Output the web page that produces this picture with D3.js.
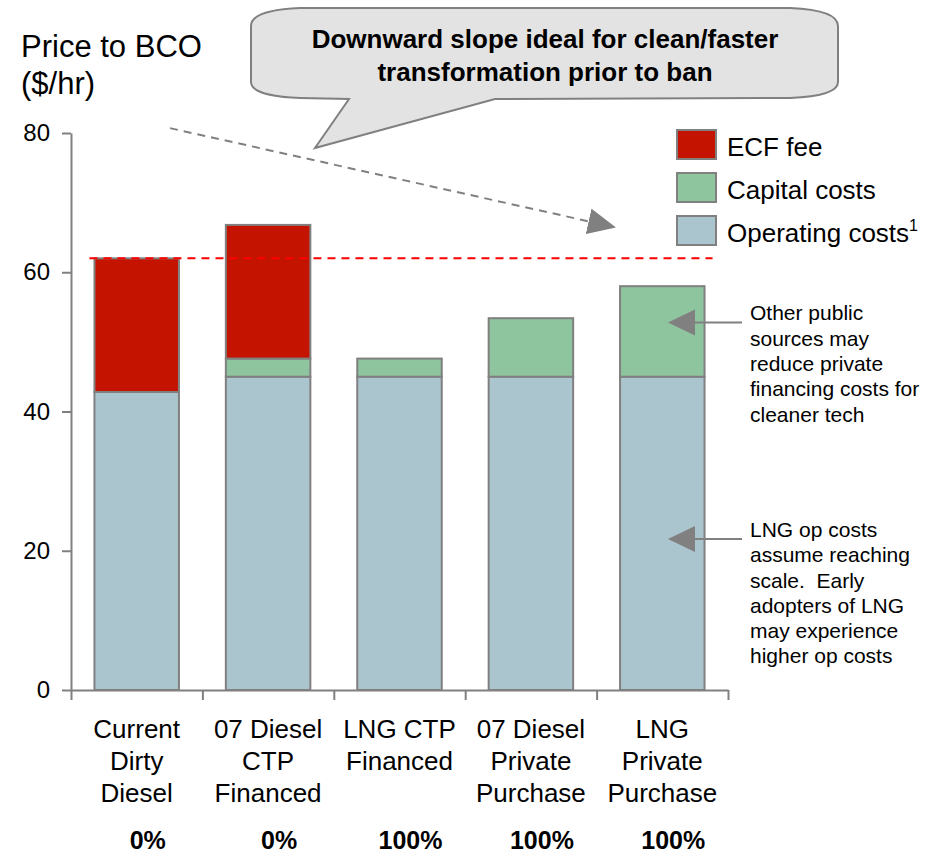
<!DOCTYPE html>
<html>
<head>
<meta charset="utf-8">
<script src="https://cdn.jsdelivr.net/npm/d3@7"></script>
<style>
  body { margin: 0; background: #fff; }
  svg { display: block; font-family: "Liberation Sans", Arial, sans-serif; }
  .note text { white-space: pre; }
</style>
</head>
<body>
<svg id="chart" width="942" height="853"></svg>
<script>
// categories and stacked values ($/hr)
const categories = ['Current Dirty Diesel', '07 Diesel CTP Financed', 'LNG CTP Financed', '07 Diesel Private Purchase', 'LNG Private Purchase'];
const categoryLines = [['Current', 'Dirty', 'Diesel'], ['07 Diesel', 'CTP', 'Financed'], ['LNG CTP', 'Financed'], ['07 Diesel', 'Private', 'Purchase'], ['LNG', 'Private', 'Purchase']];
const operatingCosts = [42.8, 45, 45, 45, 45];
const capitalCosts = [0, 2.6, 2.6, 8.4, 13];
const ecfFee = [19.2, 19.2, 0, 0, 0];
const shares = ['0%', '0%', '100%', '100%', '100%'];
const yTicks = [0, 20, 40, 60, 80];
const baseline = 62;

const keys = ['op', 'cap', 'ecf'];
const colors = {op: '#abc5ce', cap: '#8ec59e', ecf: '#c41400'};
const legendItems = [
    {key: 'ecf', label: 'ECF fee'},
    {key: 'cap', label: 'Capital costs'},
    {key: 'op', label: 'Operating costs', sup: '1'},
];

const notes = [
    {value: 52.8, lines: ['Other public', 'sources may', 'reduce private', 'financing costs for', 'cleaner tech']},
    {value: 21.7, lines: ['LNG op costs', 'assume reaching', 'scale.  Early', 'adopters of LNG', 'may experience', 'higher op costs']},
];

const table = categories.map((c, i) => ({cat: c, op: operatingCosts[i], cap: capitalCosts[i], ecf: ecfFee[i]}));

const svg = d3.select('#chart');
const grey = '#808080';

const x = d3.scaleBand()
    .domain(categories)
    .range([71, 728])
    .paddingInner(0.357)
    .paddingOuter(0.1785);

const y = d3.scaleLinear()
    .domain([0, 80])
    .range([690, 133]);

// bars
const series = d3.stack().keys(keys)(table);

svg.append('g').selectAll('g')
    .data(series)
    .join('g')
    .attr('fill', d => colors[d.key])
    .selectAll('rect')
    .data(d => d.filter(s => s[1] - s[0] > 0))
    .join('rect')
    .attr('x', d => x(d.data.cat))
    .attr('width', x.bandwidth())
    .attr('y', d => y(d[1]))
    .attr('height', d => y(d[0]) - y(d[1]))
    .attr('stroke', grey)
    .attr('stroke-width', 2);

// axes
const gy = svg.append('g')
    .attr('transform', 'translate(71,0)')
    .call(d3.axisLeft(y).tickValues(yTicks).tickSize(9).tickSizeOuter(0).tickPadding(12));
gy.select('.domain').attr('stroke', grey).attr('stroke-width', 2);
gy.selectAll('.tick line').attr('stroke', grey).attr('stroke-width', 2);
gy.selectAll('.tick text').attr('font-size', 24).attr('fill', '#000').attr('font-family', null);

const xEdge = d3.scaleLinear().domain([0, categories.length]).range(x.range());
const gx = svg.append('g')
    .attr('transform', `translate(0,${y(0)})`)
    .call(d3.axisBottom(xEdge).tickValues(d3.range(categories.length + 1)).tickFormat('').tickSize(10).tickSizeOuter(0));
gx.select('.domain').attr('stroke', grey).attr('stroke-width', 2);
gx.selectAll('.tick line').attr('stroke', grey).attr('stroke-width', 2);

// category labels
svg.append('g').selectAll('text')
    .data(categories)
    .join('text')
    .attr('x', d => x(d) + x.bandwidth() / 2)
    .attr('y', 738)
    .attr('text-anchor', 'middle')
    .attr('font-size', 26)
    .selectAll('tspan')
    .data((d, i) => categoryLines[i])
    .join('tspan')
    .attr('x', function() { return this.parentNode.getAttribute('x'); })
    .attr('dy', (d, i) => i === 0 ? 0 : 32)
    .text(d => d);

svg.append('g').selectAll('text')
    .data(shares)
    .join('text')
    .attr('x', (d, i) => x(categories[i]) + x.bandwidth() / 2 + 11)
    .attr('y', 849)
    .attr('text-anchor', 'middle')
    .attr('font-size', 25)
    .attr('font-weight', 'bold')
    .text(d => d);

// red reference line
svg.append('line')
    .attr('x1', x(categories[0]) - 5)
    .attr('x2', x(categories[categories.length - 1]) + x.bandwidth() + 8)
    .attr('y1', y(baseline))
    .attr('y2', y(baseline))
    .attr('stroke', '#ff0000')
    .attr('stroke-width', 2)
    .attr('stroke-dasharray', '8,6');

// y title
svg.append('text')
    .attr('x', 21)
    .attr('y', 57)
    .attr('font-size', 31)
    .selectAll('tspan')
    .data(['Price to BCO', '($/hr)'])
    .join('tspan')
    .attr('x', 21)
    .attr('dy', (d, i) => i === 0 ? 0 : 37)
    .text(d => d);

// legend
const legend = svg.append('g').selectAll('g')
    .data(legendItems)
    .join('g')
    .attr('transform', (d, i) => `translate(677,${130 + i * 43})`);
legend.append('rect')
    .attr('width', 39)
    .attr('height', 29)
    .attr('fill', d => colors[d.key])
    .attr('stroke', grey)
    .attr('stroke-width', 2);
const legendText = legend.append('text')
    .attr('x', 50)
    .attr('y', 26)
    .attr('font-size', 26)
    .text(d => d.label);
legendText.filter(d => d.sup)
    .append('tspan')
    .attr('font-size', 16)
    .attr('dy', -11)
    .text(d => d.sup);

// dashed trend arrow
const defs = svg.append('defs');
defs.append('marker')
    .attr('id', 'head')
    .attr('viewBox', '0 0 28 26')
    .attr('refX', 26)
    .attr('refY', 13)
    .attr('markerWidth', 28)
    .attr('markerHeight', 26)
    .attr('markerUnits', 'userSpaceOnUse')
    .attr('orient', 'auto')
    .append('path')
    .attr('d', 'M0,0 L28,13 L0,26 Z')
    .attr('fill', grey);

svg.append('line')
    .attr('x1', 170)
    .attr('y1', y(80.7))
    .attr('x2', 614)
    .attr('y2', y(66.5))
    .attr('stroke', grey)
    .attr('stroke-width', 2)
    .attr('stroke-dasharray', '8,6')
    .attr('marker-end', 'url(#head)');

// callout bubble
svg.append('path')
    .attr('d', 'M251,26 Q251,10 300,8 L790,8 Q838,10 838,26 L838,82 Q838,96 790,98 L495,99 L315,148 L349,99 L300,98 Q251,96 251,82 Z')
    .attr('fill', '#e3e3e3')
    .attr('stroke', grey)
    .attr('stroke-width', 2);

svg.append('text')
    .attr('x', 545)
    .attr('y', 48)
    .attr('text-anchor', 'middle')
    .attr('font-size', 26)
    .attr('font-weight', 'bold')
    .selectAll('tspan')
    .data(['Downward slope ideal for clean/faster', 'transformation prior to ban'])
    .join('tspan')
    .attr('x', 545)
    .attr('dy', (d, i) => i === 0 ? 0 : 33)
    .text(d => d);

// side notes
const note = svg.append('g').attr('class', 'note').selectAll('g')
    .data(notes)
    .join('g');
note.append('line')
    .attr('x1', 694)
    .attr('x2', 742)
    .attr('y1', d => y(d.value))
    .attr('y2', d => y(d.value))
    .attr('stroke', grey)
    .attr('stroke-width', 2);
note.append('path')
    .attr('d', d => `M668,${y(d.value)} L695,${y(d.value) - 13} L695,${y(d.value) + 13} Z`)
    .attr('fill', grey);
note.append('text')
    .attr('x', 750)
    .attr('y', d => y(d.value) - 2)
    .attr('font-size', 21)
    .selectAll('tspan')
    .data(d => d.lines)
    .join('tspan')
    .attr('x', 750)
    .attr('dy', (d, i) => i === 0 ? 0 : 25.3)
    .text(d => d);
</script>
</body>
</html>
